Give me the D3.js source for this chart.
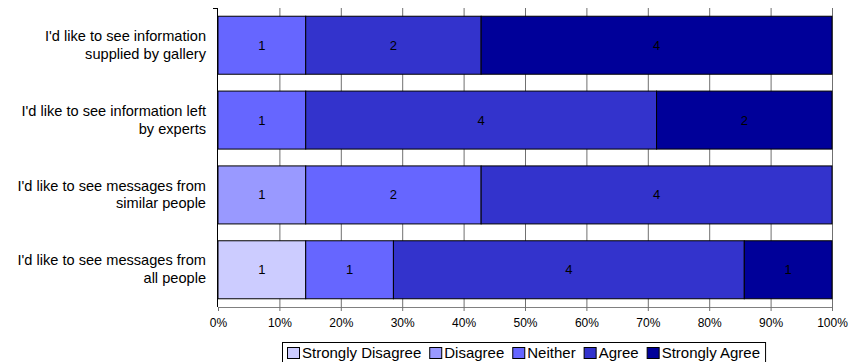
<!DOCTYPE html>
<html>
<head>
<meta charset="utf-8">
<script src="https://cdn.jsdelivr.net/npm/d3@7"></script>
<style>
  body { margin: 0; background: #fff; }
  svg { display: block; font-family: "Liberation Sans", Arial, sans-serif; }
</style>
</head>
<body>
<svg id="chart" width="849" height="362"></svg>
<script>
// Survey statements (two display lines each)
const statements = [
  ["I'd like to see information", "supplied by gallery"],
  ["I'd like to see information left", "by experts"],
  ["I'd like to see messages from", "similar people"],
  ["I'd like to see messages from", "all people"]
];
const responseLevels = ["Strongly Disagree", "Disagree", "Neither", "Agree", "Strongly Agree"];
// Response counts per statement, one array per level
const stronglyDisagree = [0, 0, 0, 1];
const disagree         = [0, 0, 1, 0];
const neither          = [1, 1, 2, 1];
const agree            = [2, 4, 4, 4];
const stronglyAgree    = [4, 2, 0, 1];
const percentTicks = [0, 10, 20, 30, 40, 50, 60, 70, 80, 90, 100];
const levelColors = ["#ccccff", "#9999ff", "#6666ff", "#3333cc", "#000099"];

const seriesValues = [stronglyDisagree, disagree, neither, agree, stronglyAgree];
const rows = statements.map((s, i) => {
  const row = { idx: i };
  responseLevels.forEach((lvl, j) => { row[lvl] = seriesValues[j][i]; });
  return row;
});

const svg = d3.select("#chart");
const margin = { left: 218, right: 17, top: 8, bottom: 55 };
const W = 849, H = 362;
const x = d3.scaleLinear().domain([0, 1]).range([margin.left, W - margin.right]);
const y = d3.scaleBand().domain(d3.range(statements.length))
  .range([margin.top, H - margin.bottom]).paddingInner(0.225).paddingOuter(0.11);

const stacked = d3.stack().keys(responseLevels).offset(d3.stackOffsetExpand)(rows);

// vertical gridlines
svg.append("g").selectAll("line").data(percentTicks.slice(1)).join("line")
  .attr("x1", d => x(d / 100) + 0.5).attr("x2", d => x(d / 100) + 0.5)
  .attr("y1", margin.top).attr("y2", H - margin.bottom)
  .attr("stroke", "#707070").attr("stroke-width", 1);

// stacked bars
const layer = svg.append("g").selectAll("g").data(stacked).join("g")
  .attr("fill", (d, i) => levelColors[i]);
layer.selectAll("rect").data(d => d.map(p => ({ p, key: d.key })))
  .join("rect")
  .filter(d => d.p[1] - d.p[0] > 0)
  .attr("x", d => x(d.p[0]))
  .attr("width", d => x(d.p[1]) - x(d.p[0]))
  .attr("y", d => y(d.p.data.idx))
  .attr("height", y.bandwidth())
  .attr("stroke", "#000").attr("stroke-width", 1);

// segment count labels
const labels = [];
stacked.forEach(s => s.forEach(p => {
  const v = p.data[s.key];
  if (v > 0) labels.push({ v, cx: x((p[0] + p[1]) / 2), cy: y(p.data.idx) + y.bandwidth() / 2 });
}));
svg.append("g").selectAll("text").data(labels).join("text")
  .attr("x", d => d.cx).attr("y", d => d.cy)
  .attr("text-anchor", "middle").attr("dominant-baseline", "central")
  .attr("font-size", 13).attr("fill", "#000")
  .text(d => d.v);

// bottom axis
const xAxis = d3.axisBottom(x).tickValues(percentTicks.map(t => t / 100))
  .tickFormat(d => Math.round(d * 100) + "%").tickSize(4).tickSizeOuter(0);
const gx = svg.append("g").attr("transform", `translate(0,${H - margin.bottom})`).call(xAxis);
gx.select(".domain").attr("stroke", "#808080");
gx.selectAll(".tick line").attr("stroke", "#707070");
gx.selectAll(".tick text").attr("font-size", 12).attr("fill", "#000")
  .attr("font-family", "Liberation Sans, Arial, sans-serif").attr("dy", "1.05em");

// left axis line
svg.append("line").attr("x1", margin.left - 0.5).attr("x2", margin.left - 0.5)
  .attr("y1", margin.top).attr("y2", H - margin.bottom).attr("stroke", "#000");
svg.append("line").attr("x1", margin.left - 5).attr("x2", margin.left)
  .attr("y1", margin.top + 0.5).attr("y2", margin.top + 0.5).attr("stroke", "#000");

// statement labels
const cat = svg.append("g").selectAll("text").data(statements).join("text")
  .attr("text-anchor", "end").attr("font-size", 14.6).attr("fill", "#000")
  .attr("y", (d, i) => y(i) + y.bandwidth() / 2);
cat.selectAll("tspan").data(d => d).join("tspan")
  .attr("x", 206)
  .attr("dy", (d, i) => i === 0 ? "-0.3em" : "1.23em")
  .text(d => d);

// legend
const legend = svg.append("g").attr("transform", "translate(282,342)");
const legendBox = legend.append("rect").attr("x", 0.5).attr("y", 0.5).attr("height", 22)
  .attr("fill", "#fff").attr("stroke", "#000");
let lx = 5;
responseLevels.forEach((lvl, i) => {
  const g = legend.append("g").attr("transform", `translate(${lx},0)`);
  g.append("rect").attr("x", 0.5).attr("y", 5.5).attr("width", 12).attr("height", 11)
    .attr("fill", levelColors[i]).attr("stroke", "#000");
  const t = g.append("text").attr("x", 15).attr("y", 16).attr("font-size", 15)
    .attr("fill", "#000").text(lvl);
  lx += 15 + t.node().getComputedTextLength() + 8;
});
legendBox.attr("width", lx - 3);
</script>
</body>
</html>
